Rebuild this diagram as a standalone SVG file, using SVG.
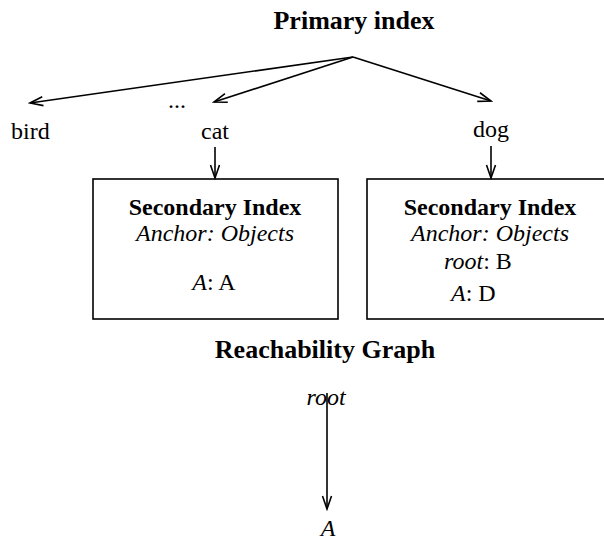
<svg xmlns="http://www.w3.org/2000/svg" width="604" height="543" viewBox="0 0 604 543">
<defs>
<marker id="arr" markerWidth="16" markerHeight="12" refX="14" refY="6" orient="auto" markerUnits="userSpaceOnUse">
<path d="M1,1.5 L14,6 L1,10.5" fill="none" stroke="#000" stroke-width="1.6"/>
</marker>
<style>
text{font-family:"Liberation Serif","Times New Roman",serif;fill:#000}
.t{font-size:26px;font-weight:bold;text-anchor:middle}
.h{font-size:24px;font-weight:bold;text-anchor:middle}
.r{font-size:24px}
.c{text-anchor:middle}
.i{font-style:italic}
.box{fill:#fff;stroke:#000;stroke-width:1.6}
.ln{stroke:#000;stroke-width:1.6;fill:none;marker-end:url(#arr)}
</style>
</defs>
<rect width="604" height="543" fill="#fff"/>
<g id="title"><text class="t" x="354" y="29">Primary index</text></g>
<g id="bird"><text class="r" x="11" y="139">bird</text></g>
<g id="ellipsis"><text class="r c" x="177" y="108">...</text></g>
<g id="cat"><text class="r c" x="215" y="139">cat</text></g>
<g id="dog"><text class="r c" x="491" y="137">dog</text></g>
<g id="sec1">
<rect class="box" x="93" y="179" width="245" height="140"/>
<text class="h" x="215" y="215">Secondary Index</text>
<text class="r c i" x="215" y="241">Anchor: Objects</text>
<text class="r c" x="214" y="290"><tspan class="i">A</tspan>: A</text>
</g>
<g id="sec2">
<rect class="box" x="367" y="179" width="245" height="140"/>
<text class="h" x="490" y="215">Secondary Index</text>
<text class="r c i" x="490" y="241">Anchor: Objects</text>
<text class="r" x="444" y="269"><tspan class="i">root</tspan>: B</text>
<text class="r" x="451" y="301"><tspan class="i">A</tspan>: D</text>
</g>
<g id="reach"><text class="t" x="325" y="358">Reachability Graph</text></g>
<g id="root"><text class="r c i" x="326" y="405">root</text></g>
<g id="A"><text class="r c i" x="328" y="536">A</text></g>
<g id="connectors">
<line class="ln" x1="353" y1="57" x2="30" y2="103"/>
<line class="ln" x1="353" y1="57" x2="214" y2="102"/>
<line class="ln" x1="353" y1="57" x2="491" y2="101"/>
<line class="ln" x1="215" y1="147" x2="215" y2="178"/>
<line class="ln" x1="491" y1="146" x2="491" y2="178"/>
<line class="ln" x1="327" y1="393" x2="327" y2="509"/>
</g>
</svg>
